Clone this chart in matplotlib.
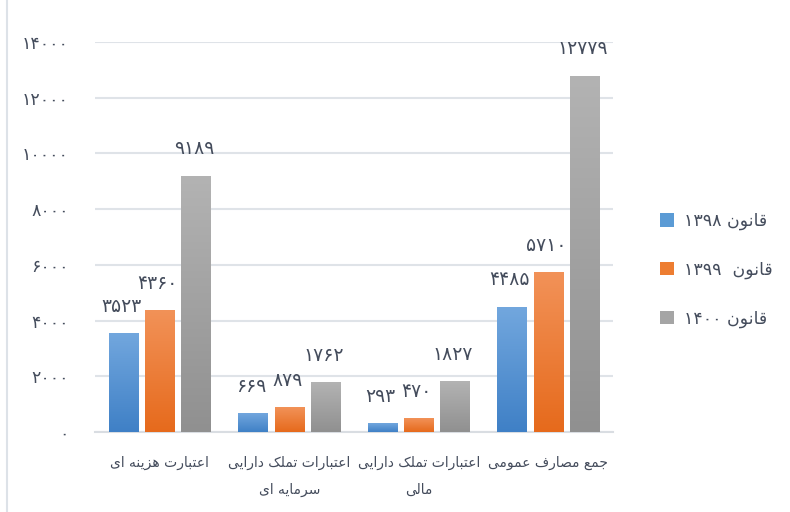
import numpy as np
import matplotlib
matplotlib.use('Agg')
import matplotlib.pyplot as plt
from matplotlib.patches import Patch
from matplotlib.colors import LinearSegmentedColormap

plt.rcParams['font.family'] = ['DejaVu Sans']

categories = ['اعتبارت هزینه ای', 'اعتبارات تملک دارایی\nسرمایه ای',
              'اعتبارات تملک دارایی\nمالی', 'جمع مصارف عمومی']
series = ['قانون ۱۳۹۸', 'قانون  ۱۳۹۹', 'قانون ۱۴۰۰']
values_1398 = [3523, 669, 293, 4485]
values_1399 = [4360, 879, 470, 5710]
values_1400 = [9189, 1762, 1827, 12779]
yticks = [0, 2000, 4000, 6000, 8000, 10000, 12000, 14000]

# top / bottom colours of the bar gradients
grads = [('#72a7de', '#3f80c6'), ('#f29258', '#e66a1c'), ('#b3b3b3', '#909090')]
legend_colors = ['#5b9bd5', '#ed7d31', '#a5a5a5']
text_color = '#444c5c'

# simple arabic shaping (matplotlib has no bidi / joining support)
FORMS = {
    'ا': ('\uFE8D', '\uFE8E', None, None),
    'ب': ('\uFE8F', '\uFE90', '\uFE91', '\uFE92'),
    'ت': ('\uFE95', '\uFE96', '\uFE97', '\uFE98'),
    'ج': ('\uFE9D', '\uFE9E', '\uFE9F', '\uFEA0'),
    'د': ('\uFEA9', '\uFEAA', None, None),
    'ر': ('\uFEAD', '\uFEAE', None, None),
    'ز': ('\uFEAF', '\uFEB0', None, None),
    'س': ('\uFEB1', '\uFEB2', '\uFEB3', '\uFEB4'),
    'ص': ('\uFEB9', '\uFEBA', '\uFEBB', '\uFEBC'),
    'ع': ('\uFEC9', '\uFECA', '\uFECB', '\uFECC'),
    'ف': ('\uFED1', '\uFED2', '\uFED3', '\uFED4'),
    'ق': ('\uFED5', '\uFED6', '\uFED7', '\uFED8'),
    'ک': ('\uFB8E', '\uFB8F', '\uFB90', '\uFB91'),
    'ل': ('\uFEDD', '\uFEDE', '\uFEDF', '\uFEE0'),
    'م': ('\uFEE1', '\uFEE2', '\uFEE3', '\uFEE4'),
    'ن': ('\uFEE5', '\uFEE6', '\uFEE7', '\uFEE8'),
    'ه': ('\uFEE9', '\uFEEA', '\uFEEB', '\uFEEC'),
    'و': ('\uFEED', '\uFEEE', None, None),
    'ی': ('\uFBFC', '\uFBFD', '\uFBFE', '\uFBFF'),
}


def shapeWord(word):
    if not any(c in FORMS for c in word):
        return word
    out = []
    for i, c in enumerate(word):
        if c not in FORMS:
            out.append(c)
            continue
        prev = word[i - 1] if i > 0 else ''
        nxt = word[i + 1] if i + 1 < len(word) else ''
        jp = prev in FORMS and FORMS[prev][2] is not None
        jn = FORMS[c][2] is not None and nxt in FORMS
        f = FORMS[c]
        if jp and jn:
            out.append(f[3])
        elif jp:
            out.append(f[1])
        elif jn:
            out.append(f[2])
        else:
            out.append(f[0])
    return ''.join(reversed(out))


def rtl(text):
    lines = []
    for line in text.split('\n'):
        words = line.split(' ')
        lines.append(' '.join(shapeWord(w) for w in reversed(words)))
    return '\n'.join(lines)


def fa(n):
    return str(n).translate(str.maketrans('0123456789', '۰۱۲۳۴۵۶۷۸۹'))


fig = plt.figure(figsize=(7.9, 5.12), dpi=100)
ax = fig.add_axes([95 / 790, 1 - 432 / 512, (613 - 95) / 790, (432 - 42) / 512])

x = np.arange(len(categories))
step = 0.28
width = 0.225
data = [values_1398, values_1399, values_1400]
grad = np.linspace(1, 0, 256).reshape(-1, 1)
for k, vals in enumerate(data):
    bars = ax.bar(x + (k - 1) * step, vals, width, color='none', edgecolor='none', zorder=3)
    cmap = LinearSegmentedColormap.from_list('g%d' % k, [grads[k][1], grads[k][0]])
    for b, v in zip(bars, vals):
        x0 = b.get_x()
        ax.imshow(grad, cmap=cmap, aspect='auto', extent=[x0, x0 + b.get_width(), 0, b.get_height()],
                  zorder=3, interpolation='bicubic')
        ax.annotate(fa(v), (x0 + b.get_width() / 2, v), xytext=(-1.5, 19.5), textcoords='offset points',
                    ha='center', va='center', fontsize=13.5, color=text_color, zorder=4)

ax.set_xlim(-0.5, len(categories) - 0.5)
ax.set_ylim(0, 14000)
ax.set_yticks(yticks)
ax.set_yticklabels([fa(t) for t in yticks], fontsize=12.5, color=text_color)
ax.set_xticks(x)
ax.set_xticklabels([rtl(c) for c in categories], fontsize=10, color=text_color, linespacing=2.2)
ax.tick_params(axis='y', length=0, pad=19)
ax.tick_params(axis='x', length=0, pad=17)
ax.grid(axis='y', color='#dfe3e8', linewidth=1.5, zorder=0)
for s in ['top', 'right', 'left']:
    ax.spines[s].set_visible(False)
ax.spines['bottom'].set_color('#d9dde2')
ax.spines['bottom'].set_linewidth(1.5)

handles = [Patch(facecolor=c) for c in legend_colors]
fig.legend(handles, [rtl(s) for s in series], loc='center left', bbox_to_anchor=(644 / 790, 1 - 270 / 512),
           frameon=False, fontsize=12.5, labelspacing=1.75, handlelength=0.8, handleheight=0.8,
           handletextpad=0.6, labelcolor=text_color)

# chart border on the left
fig.add_artist(plt.Line2D([7 / 790, 7 / 790], [0, 1], color='#dde2e8', linewidth=1.5))

fig.savefig('out.png', dpi=100)
